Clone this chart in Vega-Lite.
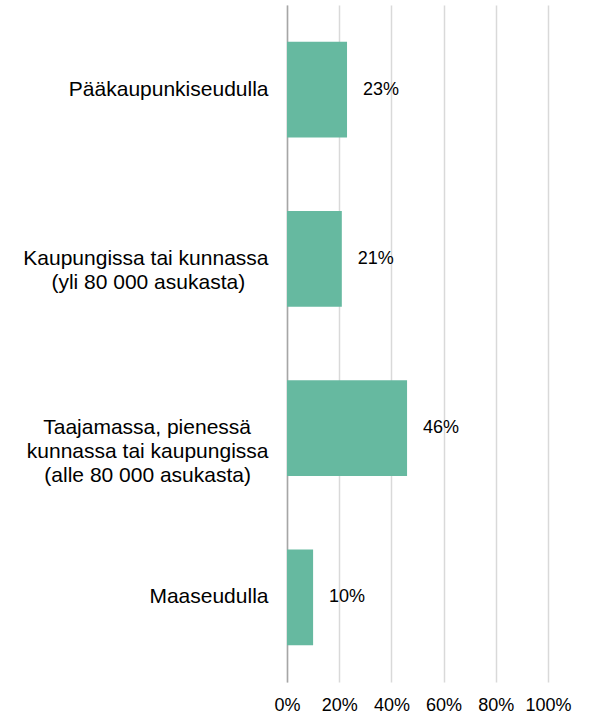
{
  "$schema": "https://vega.github.io/schema/vega-lite/v6.json",
  "autosize": {"type": "none"},
  "padding": {"left": 287, "top": 5, "right": 44, "bottom": 32},
  "width": 261,
  "height": 677,
  "background": "white",
  "config": {"view": {"stroke": null}, "font": "Liberation Sans"},
  "data": {
    "values": [
      {"alue": "Pääkaupunkiseudulla", "osuus": 0.23},
      {"alue": "Kaupungissa tai kunnassa|(yli 80 000 asukasta)\u00a0\u00a0\u00a0\u00a0\u200b", "osuus": 0.21},
      {"alue": "Taajamassa, pienessä\u00a0\u00a0\u00a0\u200b|kunnassa tai kaupungissa|(alle 80 000 asukasta)\u00a0\u00a0\u00a0\u200b", "osuus": 0.46},
      {"alue": "Maaseudulla", "osuus": 0.10}
    ]
  },
  "encoding": {
    "y": {
      "field": "alue",
      "type": "nominal",
      "sort": null,
      "scale": {"paddingInner": 0.433, "paddingOuter": 0.2165},
      "axis": {
        "title": null,
        "ticks": false,
        "labelExpr": "split(datum.label, '|')",
        "labelFontSize": 21,
        "labelLineHeight": 24,
        "labelColor": "#000000",
        "labelAlign": "right",
        "labelBaseline": "middle",
        "labelPadding": 19,
        "labelLimit": 400,
        "domainColor": "#a6a6a6",
        "domainWidth": 1.5,
        "grid": false
      }
    },
    "x": {
      "field": "osuus",
      "type": "quantitative",
      "scale": {"domain": [0, 1], "nice": false},
      "axis": {
        "title": null,
        "values": [0, 0.2, 0.4, 0.6, 0.8, 1],
        "format": ".0%",
        "domain": false,
        "ticks": false,
        "grid": true,
        "gridColor": "#d9d9d9",
        "gridWidth": 1.5,
        "labelFontSize": 18,
        "labelColor": "#000000",
        "labelPadding": 14,
        "labelFlush": false
      }
    }
  },
  "layer": [
    {"mark": {"type": "bar", "color": "#66b9a0"}},
    {
      "mark": {"type": "text", "align": "left", "baseline": "middle", "dx": 16, "fontSize": 18, "color": "#000000"},
      "encoding": {"text": {"field": "osuus", "type": "quantitative", "format": ".0%"}}
    }
  ]
}
